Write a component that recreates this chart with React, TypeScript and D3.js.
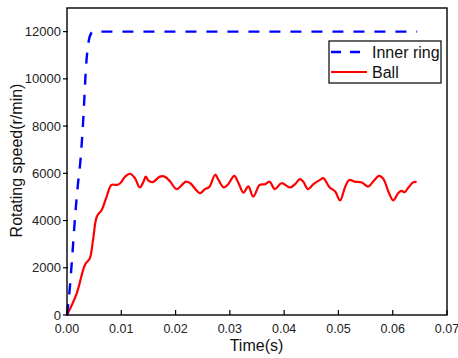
import { useEffect, useRef } from "react";
import * as d3 from "d3";

const innerTime = [0, 0.0005, 0.001, 0.0015, 0.002, 0.0025, 0.003, 0.0035, 0.004, 0.0045, 0.0048, 0.0645];
const innerSpeed = [0, 1100, 2600, 4200, 5500, 6600, 8300, 10500, 11600, 11950, 12000, 12000];

const ballTime = [
  0, 0.0018, 0.0033, 0.0042, 0.0048, 0.0055, 0.0064, 0.0073, 0.0082, 0.0092, 0.0098, 0.0107, 0.0116,
  0.0125, 0.0134, 0.0141, 0.0145, 0.015, 0.0158, 0.0171, 0.018, 0.019, 0.0202, 0.0219, 0.0227, 0.0245,
  0.0254, 0.0262, 0.0273, 0.0279, 0.0289, 0.0297, 0.0308, 0.0316, 0.0325, 0.0334, 0.0343, 0.0355,
  0.0365, 0.0373, 0.0383, 0.0395, 0.0411, 0.042, 0.0429, 0.0435, 0.0444, 0.0454, 0.0466, 0.0472,
  0.0484, 0.0494, 0.0503, 0.0512, 0.052, 0.053, 0.0543, 0.0555, 0.0564, 0.0575, 0.0583, 0.0592,
  0.0601, 0.061, 0.0616, 0.0622, 0.0629, 0.0638, 0.0644,
];
const ballSpeed = [
  0, 920, 2120, 2400, 3180, 4170, 4450, 5015, 5510, 5510, 5580, 5860, 5980,
  5800, 5400, 5650, 5860, 5690, 5625, 5860, 5860, 5650, 5330, 5650, 5580, 5160,
  5330, 5415, 5940, 5720, 5400, 5540, 5890, 5580, 5185, 5450, 5015, 5510,
  5540, 5650, 5330, 5580, 5400, 5540, 5755, 5650, 5330, 5540, 5720, 5795,
  5400, 5230, 4850, 5400, 5720, 5650, 5610, 5440, 5650, 5890, 5755, 5230,
  4850, 5160, 5260, 5200, 5400, 5625, 5625,
];

const xTicks = [0, 0.01, 0.02, 0.03, 0.04, 0.05, 0.06, 0.07];
const yTicks = [0, 2000, 4000, 6000, 8000, 10000, 12000];
const seriesNames = ["Inner ring", "Ball"];

export default function App() {
  const svgRef = useRef<SVGSVGElement | null>(null);

  useEffect(() => {
    if (!svgRef.current) return;
    const width = 458;
    const height = 358;
    const m = { left: 67, right: 11, top: 8, bottom: 43 };
    const font = "Liberation Sans, Arial, sans-serif";

    const svg = d3.select(svgRef.current);
    svg.selectAll("*").remove();

    const x = d3.scaleLinear().domain([0, 0.07]).range([m.left, width - m.right]);
    const y = d3.scaleLinear().domain([0, 13000]).range([height - m.bottom, m.top]);

    const line = d3
      .line<[number, number]>()
      .x((d) => x(d[0]))
      .y((d) => y(d[1]));

    const ballPts: [number, number][] = ballTime.map((t, i) => [t, ballSpeed[i]]);
    const innerPts: [number, number][] = innerTime.map((t, i) => [t, innerSpeed[i]]);

    svg
      .append("path")
      .attr("d", line.curve(d3.curveCatmullRom.alpha(0.5))(ballPts) as string)
      .attr("fill", "none")
      .attr("stroke", "#ff0000")
      .attr("stroke-width", 2.2);

    svg
      .append("path")
      .attr("d", line.curve(d3.curveMonotoneX)(innerPts) as string)
      .attr("fill", "none")
      .attr("stroke", "#0000ff")
      .attr("stroke-width", 2.4)
      .attr("stroke-dasharray", "11,10");

    // frame
    const [x0, x1] = x.range();
    const [y0, y1] = y.range();
    svg
      .append("rect")
      .attr("x", x0)
      .attr("y", y1)
      .attr("width", x1 - x0)
      .attr("height", y0 - y1)
      .attr("fill", "none")
      .attr("stroke", "#000")
      .attr("stroke-width", 1.4);

    // x ticks point inward
    const xg = svg.append("g");
    xTicks.forEach((t) => {
      xg.append("line")
        .attr("x1", x(t))
        .attr("x2", x(t))
        .attr("y1", y0)
        .attr("y2", y0 - 5)
        .attr("stroke", "#000")
        .attr("stroke-width", 1.2);
      xg.append("text")
        .attr("x", x(t))
        .attr("y", y0 + 18)
        .attr("text-anchor", "middle")
        .attr("font-family", font)
        .attr("font-size", 12.5)
        .attr("fill", "#222")
        .text(d3.format(".2f")(t));
    });

    // y ticks
    const yg = svg.append("g");
    yTicks.forEach((v) => {
      yg.append("line")
        .attr("x1", x0 - 4)
        .attr("x2", x0 + 1)
        .attr("y1", y(v))
        .attr("y2", y(v))
        .attr("stroke", "#000")
        .attr("stroke-width", 1.2);
      yg.append("text")
        .attr("x", x0 - 6)
        .attr("y", y(v))
        .attr("dy", "0.35em")
        .attr("text-anchor", "end")
        .attr("font-family", font)
        .attr("font-size", 13)
        .attr("fill", "#222")
        .text(String(v));
    });

    svg
      .append("text")
      .attr("x", (x0 + x1) / 2 - 0.5)
      .attr("y", 351)
      .attr("text-anchor", "middle")
      .attr("font-family", font)
      .attr("font-size", 16)
      .attr("fill", "#111")
      .text("Time(s)");

    svg
      .append("text")
      .attr("transform", `translate(22,${(y0 + y1) / 2 - 1}) rotate(-90)`)
      .attr("text-anchor", "middle")
      .attr("font-family", font)
      .attr("font-size", 16)
      .attr("fill", "#111")
      .text("Rotating speed(r/min)");

    // legend
    const lg = svg.append("g").attr("transform", "translate(329,41)");
    lg.append("rect")
      .attr("width", 112)
      .attr("height", 42)
      .attr("fill", "#fff")
      .attr("stroke", "#000")
      .attr("stroke-width", 1.2);
    const legendStyles = [
      { color: "#0000ff", dash: "10,9", width: 2.4 },
      { color: "#ff0000", dash: null, width: 2.2 },
    ];
    seriesNames.forEach((name, i) => {
      const cy = 11 + i * 20;
      const s = legendStyles[i];
      lg.append("line")
        .attr("x1", 2)
        .attr("x2", 38)
        .attr("y1", cy)
        .attr("y2", cy)
        .attr("stroke", s.color)
        .attr("stroke-width", s.width)
        .attr("stroke-dasharray", s.dash);
      lg.append("text")
        .attr("x", 43)
        .attr("y", cy)
        .attr("dy", "0.35em")
        .attr("font-family", font)
        .attr("font-size", 16)
        .attr("fill", "#111")
        .text(name);
    });
  }, []);

  return (
    <svg
      ref={svgRef}
      width={458}
      height={358}
      style={{ position: "absolute", left: 0, top: 0, background: "#fff" }}
    />
  );
}
